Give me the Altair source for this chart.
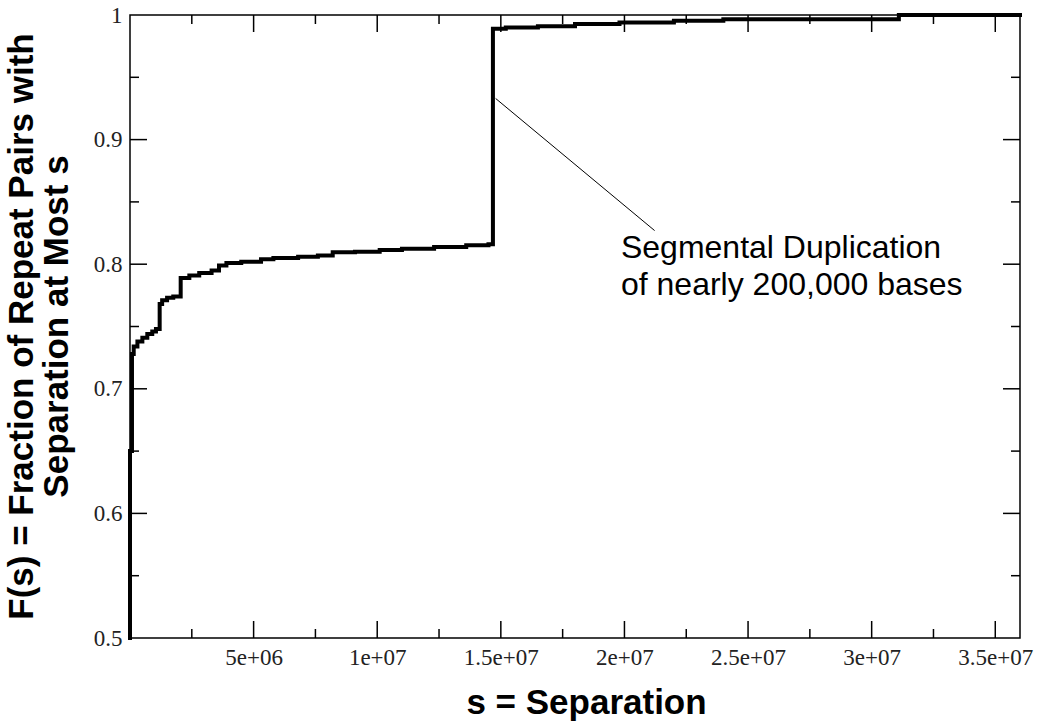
import altair as alt
import pandas as pd

# ---- data ----
sep = [0, 0, 8e4, 1.5e5, 3e5, 5e5, 7e5, 9e5, 1.05e6, 1.2e6, 1.3e6, 1.5e6, 1.75e6,
       2.05e6, 2.4e6, 2.8e6, 3.3e6, 3.6e6, 3.9e6, 4.5e6, 5.3e6, 5.8e6, 6.8e6, 7.6e6,
       8.2e6, 9.1e6, 1.01e7, 1.1e7, 1.23e7, 1.36e7, 1.45e7, 1.468e7, 1.52e7, 1.65e7,
       1.8e7, 1.98e7, 2.2e7, 2.4e7, 3.11e7, 3.6e7]
frac = [0.50, 0.65, 0.728, 0.734, 0.738, 0.741, 0.744, 0.746, 0.748, 0.768, 0.771, 0.773, 0.774,
        0.789, 0.791, 0.793, 0.795, 0.799, 0.801, 0.802, 0.804, 0.805, 0.806, 0.807,
        0.8095, 0.810, 0.8113, 0.8125, 0.8139, 0.8152, 0.816, 0.989, 0.990, 0.991,
        0.9928, 0.994, 0.9953, 0.9965, 1.0, 1.0]

x_major = [5e6, 1e7, 1.5e7, 2e7, 2.5e7, 3e7, 3.5e7]
x_labels = ["5e+06", "1e+07", "1.5e+07", "2e+07", "2.5e+07", "3e+07", "3.5e+07"]
x_minor = [2.5e6, 7.5e6, 1.25e7, 1.75e7, 2.25e7, 2.75e7, 3.25e7]
y_major = [0.5, 0.6, 0.7, 0.8, 0.9, 1.0]
y_labels = ["0.5", "0.6", "0.7", "0.8", "0.9", "1"]
y_minor = [0.55, 0.65, 0.75, 0.85, 0.95]

note_lines = ["Segmental Duplication", "of nearly 200,000 bases"]
note_s = [1.986e7, 1.986e7]
note_f = [0.805, 0.7753]
pointer_s = [1.479e7]
pointer_f = [0.933]
pointer_s2 = [2.122e7]
pointer_f2 = [0.827]

W, H = 890, 623
XMAX = 3.6e7

curve = pd.DataFrame({"s": sep, "F": frac})
notes = pd.DataFrame({"t": note_lines, "s": note_s, "F": note_f})
pointer = pd.DataFrame({"s": pointer_s, "F": pointer_f, "s2": pointer_s2, "F2": pointer_f2})

def label_expr(vals, labs):
    expr = "''"
    for v, l in zip(vals, labs):
        expr = f"abs(datum.value - {v}) < 1e-6 * {max(abs(v), 1)} ? '{l}' : " + expr
    return expr

xscale = alt.Scale(domain=[0, XMAX], nice=False, zero=False)
yscale = alt.Scale(domain=[0.5, 1.0], nice=False, zero=False)

x_axis = alt.Axis(
    values=x_major, labelExpr=label_expr(x_major, x_labels),
    title="s = Separation", titleX=456, titleY=75, titleBaseline="alphabetic",
    titleAlign="center",
)
y_axis = alt.Axis(
    values=y_major, labelExpr=label_expr(y_major, y_labels),
    title=["F(s) = Fraction of Repeat Pairs with", "Separation at Most s"],
    titleX=-126, titleY=311, titleAngle=270,
    titleBaseline="top", titleAlign="center", titleLineHeight=35,
)

def X(field):
    return alt.X(field, scale=xscale, axis=x_axis)

def Y(field):
    return alt.Y(field, scale=yscale, axis=y_axis)

line = alt.Chart(curve).mark_line(interpolate="step-after", color="black",
                                  strokeWidth=4, strokeCap="square").encode(
    x=X("s:Q"), y=Y("F:Q"), order="index:Q",
).transform_window(index="row_number()")

tick_style = dict(color="black", strokeWidth=1.5)
xmaj = pd.DataFrame({"v": x_major})
xmin = pd.DataFrame({"v": x_minor})
ymaj = pd.DataFrame({"v": y_major[1:-1]})
ymin = pd.DataFrame({"v": y_minor})

def xticks(df, length):
    b = alt.Chart(df).mark_rule(**tick_style).encode(
        x=X("v:Q"), y=alt.value(H), y2=alt.value(H - length))
    t = alt.Chart(df).mark_rule(**tick_style).encode(
        x=X("v:Q"), y=alt.value(0), y2=alt.value(length))
    return [b, t]

def yticks(df, length):
    l = alt.Chart(df).mark_rule(**tick_style).encode(
        y=Y("v:Q"), x=alt.value(0), x2=alt.value(length))
    r = alt.Chart(df).mark_rule(**tick_style).encode(
        y=Y("v:Q"), x=alt.value(W), x2=alt.value(W - length))
    return [l, r]

ptr = alt.Chart(pointer).mark_rule(color="black", strokeWidth=1).encode(
    x=X("s:Q"), y=Y("F:Q"), x2="s2:Q", y2="F2:Q")

txt = alt.Chart(notes).mark_text(
    align="left", baseline="alphabetic", font="Liberation Sans", fontSize=32,
    color="black").encode(x=X("s:Q"), y=Y("F:Q"), text="t:N")

layers = [line] + xticks(xmaj, 17) + xticks(xmin, 9) + yticks(ymaj, 17) + yticks(ymin, 9) + [ptr, txt]

chart = alt.layer(*layers).properties(
    width=W, height=H,
    background="white",
    autosize=alt.AutoSizeParams(type="none"),
    padding={"left": 130, "top": 15, "right": 20, "bottom": 84},
).configure_view(
    stroke="black", strokeWidth=1.5
).configure_axis(
    ticks=False, domain=False, grid=False,
    labelFont="Liberation Serif", labelFontSize=23, labelColor="#222", labelPadding=8,
    titleFont="Liberation Sans", titleFontWeight="bold", titleFontSize=35, titleColor="black",
)

chart.save("out.html", embed_options={"renderer": "svg", "actions": False})
